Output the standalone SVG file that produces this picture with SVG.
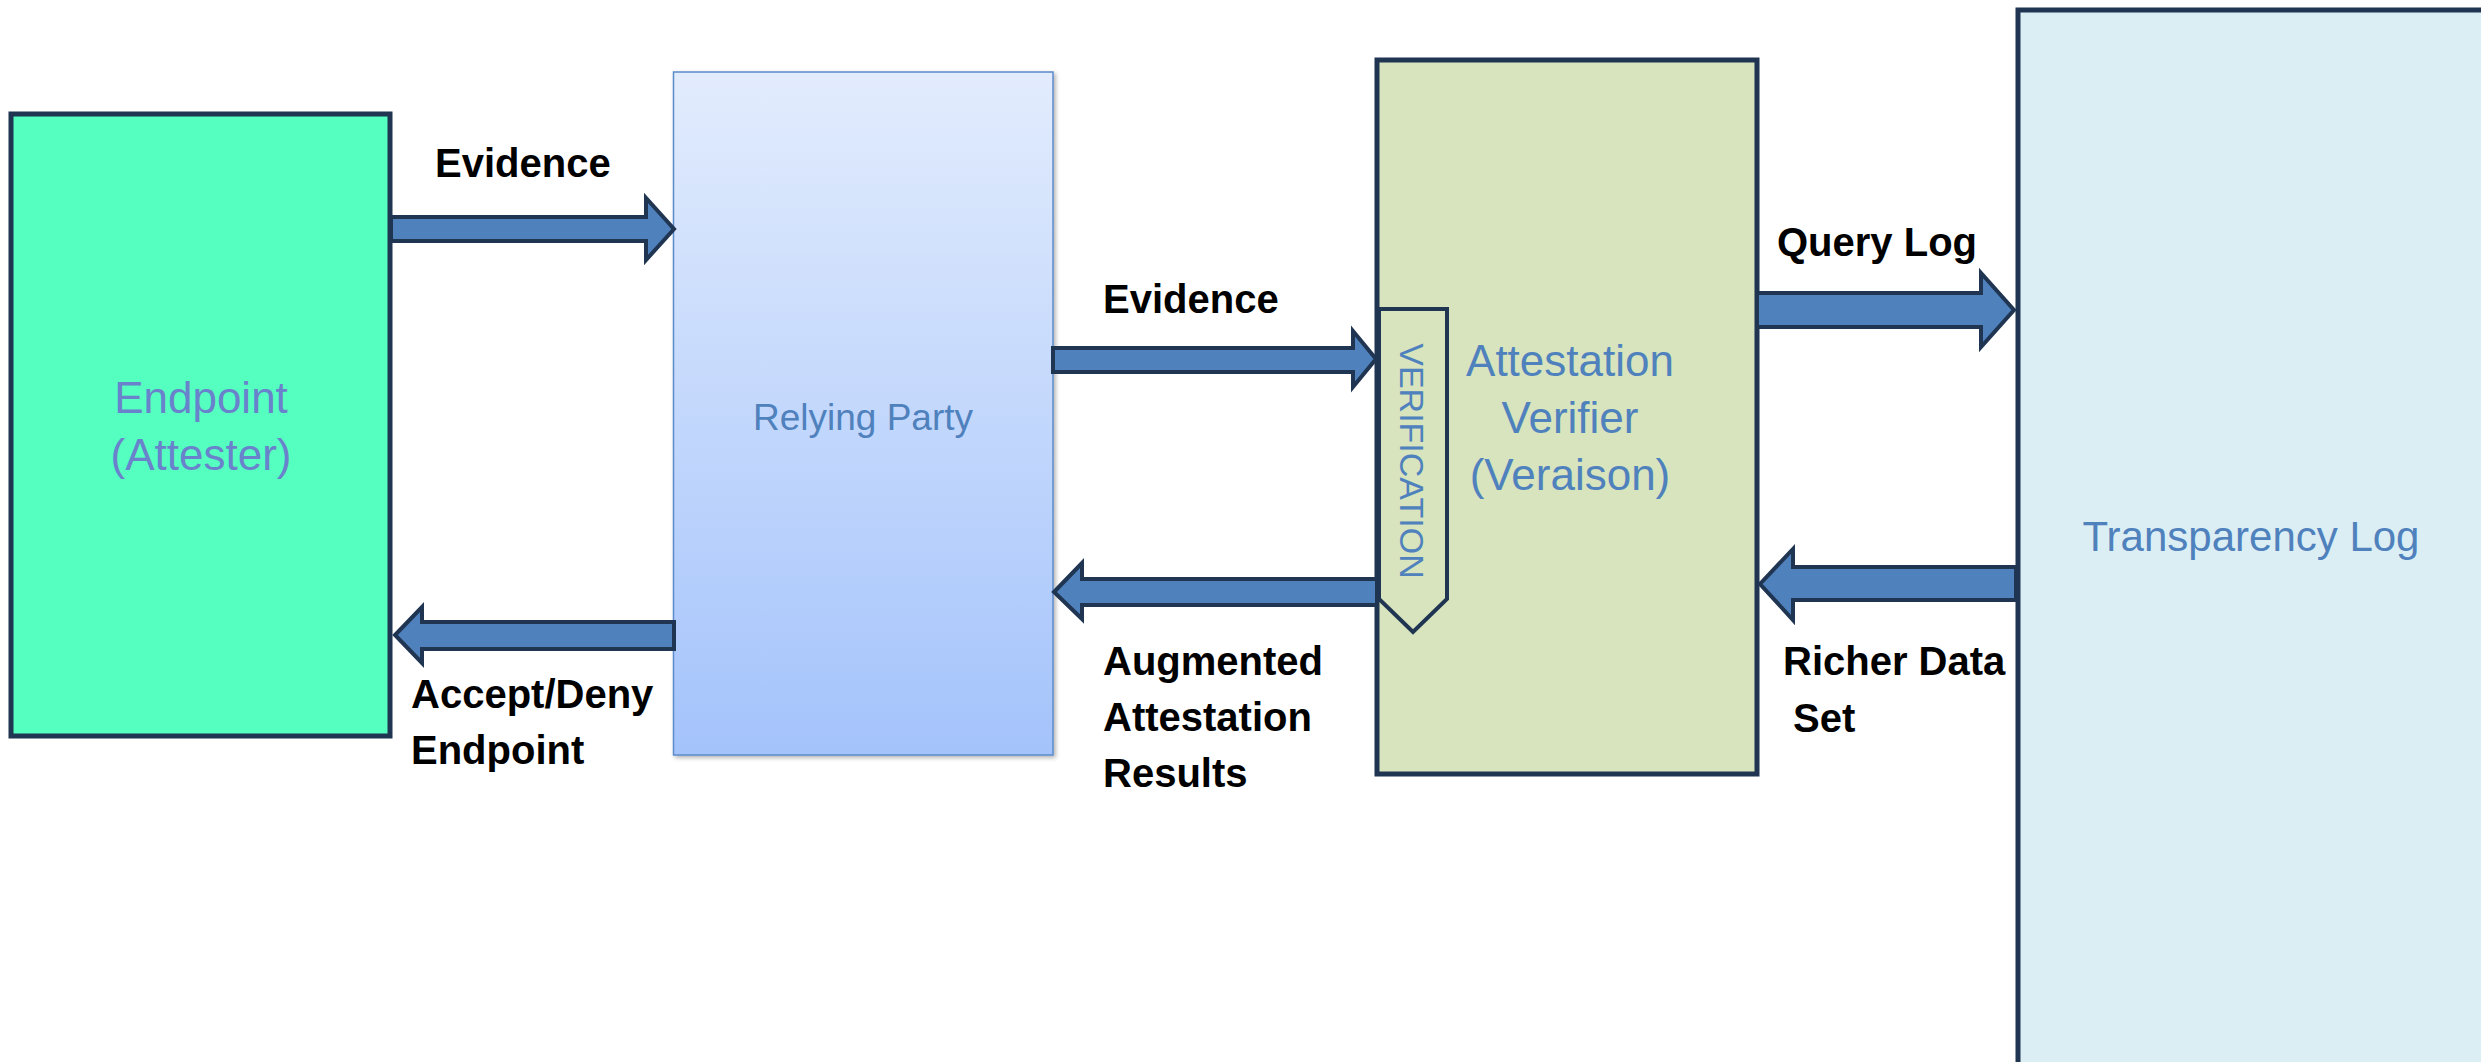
<svg xmlns="http://www.w3.org/2000/svg" width="2481" height="1062" viewBox="0 0 2481 1062">
<style>
.box{stroke:#1F3552;stroke-width:5}
.arrow{fill:#4F81BD;stroke:#1F3552;stroke-width:4;stroke-linejoin:miter}
.lbl{font-family:"Liberation Sans",Arial,sans-serif;font-weight:bold;font-size:40px;fill:#000}
.nt{font-family:"Liberation Sans",Arial,sans-serif;fill:#4F81BD;text-anchor:middle}
</style>
<defs>
<linearGradient id="rpGrad" x1="0" y1="0" x2="0" y2="1">
<stop offset="0" stop-color="#E2ECFD"/>
<stop offset="1" stop-color="#A4C3FB"/>
</linearGradient>
<filter id="shadow" x="-5%" y="-5%" width="110%" height="110%">
<feDropShadow dx="2" dy="2" stdDeviation="2" flood-color="#000" flood-opacity="0.3"/>
</filter>
</defs>
<rect width="2481" height="1062" fill="#FFFFFF"/>

<g id="endpoint">
<rect class="box" x="11" y="114" width="379" height="622" fill="#54FFBF"/>
<text class="nt" x="201" y="413" font-size="44" fill="#6A82CC" style="fill:#6A82CC">Endpoint</text>
<text class="nt" x="201" y="470" font-size="44" style="fill:#6A82CC">(Attester)</text>
</g>

<g id="relying-party">
<rect x="673.5" y="72" width="379.5" height="683" fill="url(#rpGrad)" stroke="#5B8BCB" stroke-width="1.5" filter="url(#shadow)"/>
<text class="nt" x="863" y="430" font-size="37">Relying Party</text>
</g>

<g id="verifier">
<rect class="box" x="1377" y="60" width="380" height="714" fill="#D7E4BD"/>
<text class="nt" x="1570" y="376" font-size="44">Attestation</text>
<text class="nt" x="1570" y="433" font-size="44">Verifier</text>
<text class="nt" x="1570" y="490" font-size="44">(Veraison)</text>
</g>

<g id="verification">
<polygon points="1379,309 1447,309 1447,599 1413,632 1379,599" fill="#D7E4BD" stroke="#1F3552" stroke-width="4" stroke-linejoin="miter"/>
<text class="nt" x="1412" y="473" font-size="34" transform="rotate(90 1412 461)">VERIFICATION</text>
</g>

<g id="transparency-log">
<rect class="box" x="2018" y="10" width="520" height="1100" fill="#DBEEF4"/>
<text class="nt" x="2251" y="551" font-size="42">Transparency Log</text>
</g>

<g id="connectors">
<polygon class="arrow" points="391,217 646,217 646,198 674,229 646,260 646,241 391,241"/>
<polygon class="arrow" points="674,622 422,622 422,607 395,635 422,663 422,649 674,649"/>
<polygon class="arrow" points="1053,348 1353,348 1353,331 1376,359 1353,387 1353,372 1053,372"/>
<polygon class="arrow" points="1377,579 1082,579 1082,563 1054,592 1082,619 1082,605 1377,605"/>
<polygon class="arrow" points="1757,293 1981,293 1981,273 2014,310 1981,347 1981,327 1757,327"/>
<polygon class="arrow" points="2016,567 1793,567 1793,549 1760,584 1793,620 1793,600 2016,600"/>
</g>

<g id="labels">
<text class="lbl" x="435" y="177">Evidence</text>
<text class="lbl" x="411" y="708">Accept/Deny</text>
<text class="lbl" x="411" y="764">Endpoint</text>
<text class="lbl" x="1103" y="313">Evidence</text>
<text class="lbl" x="1103" y="675">Augmented</text>
<text class="lbl" x="1103" y="731">Attestation</text>
<text class="lbl" x="1103" y="787">Results</text>
<text class="lbl" x="1777" y="256">Query Log</text>
<text class="lbl" x="1783" y="675">Richer Data</text>
<text class="lbl" x="1793" y="732">Set</text>
</g>
</svg>
